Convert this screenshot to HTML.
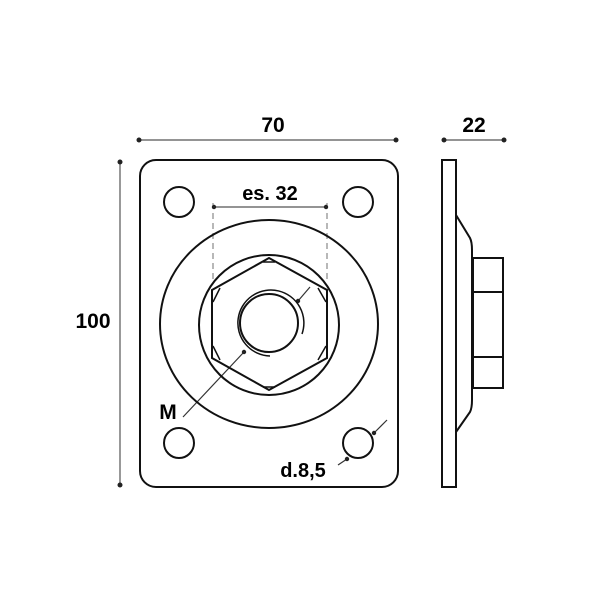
<!DOCTYPE html>
<html><head><style>body{margin:0;background:#fff}svg{display:block}text{font-family:"Liberation Sans",sans-serif;font-weight:bold;fill:#000}</style></head>
<body>
<svg width="600" height="600" viewBox="0 0 600 600" xmlns="http://www.w3.org/2000/svg">
<g stroke="#555" stroke-width="1.2" fill="none">
<line x1="139" y1="140" x2="396" y2="140"/>
<line x1="444" y1="140" x2="504" y2="140"/>
<line x1="120" y1="162" x2="120" y2="485"/>
<line x1="213" y1="207" x2="327" y2="207"/>
<line x1="213" y1="203" x2="213" y2="282" stroke-dasharray="6,4" stroke="#888"/>
<line x1="327" y1="203" x2="327" y2="282" stroke-dasharray="6,4" stroke="#888"/>
<line x1="244" y1="352" x2="183" y2="417" stroke="#333"/>
<line x1="310" y1="287" x2="298" y2="301" stroke="#333"/>
<line x1="387" y1="420" x2="374" y2="433" stroke="#333"/>
<line x1="347" y1="459" x2="338" y2="465" stroke="#333"/>
</g>
<g fill="#222">
<circle cx="139" cy="140" r="2.5"/><circle cx="396" cy="140" r="2.5"/>
<circle cx="444" cy="140" r="2.5"/><circle cx="504" cy="140" r="2.5"/>
<circle cx="120" cy="162" r="2.5"/><circle cx="120" cy="485" r="2.5"/>
<circle cx="214" cy="207" r="2.2"/><circle cx="326" cy="207" r="2.2"/>
<circle cx="244" cy="352" r="2.2"/><circle cx="298" cy="301" r="2.2"/>
<circle cx="374" cy="433" r="2.2"/><circle cx="347" cy="459" r="2.2"/>
</g>
<g stroke="#111" stroke-width="2" fill="none">
<rect x="140" y="160" width="258" height="327" rx="16"/>
<circle cx="179" cy="202" r="15"/><circle cx="358" cy="202" r="15"/>
<circle cx="179" cy="443" r="15"/><circle cx="358" cy="443" r="15"/>
<ellipse cx="269" cy="324" rx="109" ry="104"/>
<circle cx="269" cy="325" r="70"/>
<polygon points="269,258 327,290 327,358 269,390 212,358 212,290"/>
<path d="M263,262 L275,262 M318,288 L326,302 M318,360 L326,346 M263,387 L275,387 M220,288 L213,302 M220,360 L213,346" stroke-width="1.5"/>
<circle cx="269" cy="323" r="29"/>
<path d="M270,356 A33,33 0 1 1 302,334" stroke-width="1.5"/>
<rect x="442" y="160" width="14" height="327"/>
<path d="M456,215 L470,238 Q472,242 472,250 L472,400 Q472,408 470,412 L456,432"/>
<path d="M473,258 L503,258 L503,388 L473,388 Z M473,292 L502,292 M473,357 L502,357"/>
</g>
<text x="273" y="132" font-size="21" text-anchor="middle">70</text>
<text x="474" y="132" font-size="21" text-anchor="middle">22</text>
<text x="93" y="328" font-size="21" text-anchor="middle">100</text>
<text x="270" y="200" font-size="20" text-anchor="middle">es. 32</text>
<text x="168" y="419" font-size="21" text-anchor="middle">M</text>
<text x="303" y="477" font-size="20" text-anchor="middle">d.8,5</text>
</svg>
</body></html>
